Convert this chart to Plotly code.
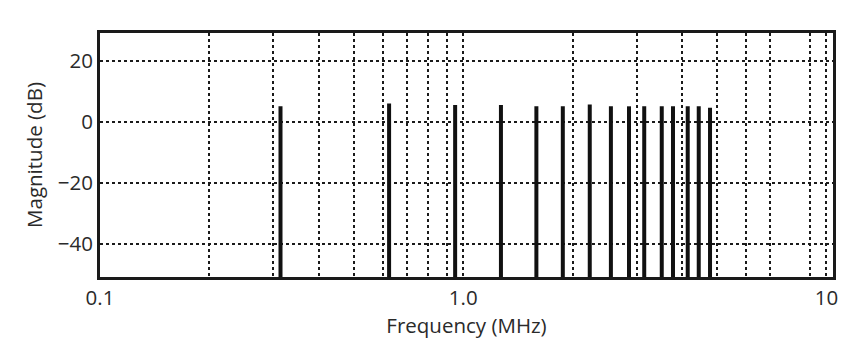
import plotly.graph_objects as go

freqs_mhz = [0.314, 0.625, 0.95, 1.27, 1.59, 1.88, 2.23, 2.55, 2.86, 3.15, 3.52, 3.78, 4.15, 4.45, 4.78]
mags_db = [5.1, 6.0, 5.5, 5.5, 5.1, 5.1, 5.7, 5.1, 5.1, 5.1, 5.1, 5.1, 5.1, 5.1, 4.6]
floor_db = -51

x_grid_vals = [0.1, 0.2, 0.3, 0.4, 0.5, 0.6, 0.7, 0.8, 0.9, 1.0, 2, 3, 4, 5, 6, 7, 9, 10]
x_tick_text = ["0.1", "", "", "", "", "", "", "", "", "1.0", "", "", "", "", "", "", "", "10"]
y_tick_vals = [-40, -20, 0, 20]
y_tick_text = ["\u221240", "\u221220", "0", "20"]

xs, ys = [], []
for f, m in zip(freqs_mhz, mags_db):
    xs += [f, f, None]
    ys += [floor_db, m, None]

fig = go.Figure()
fig.add_trace(go.Scatter(x=xs, y=ys, mode="lines",
                         line=dict(color="#111", width=4),
                         hoverinfo="skip", showlegend=False))

font = dict(family="Open Sans, Noto Sans, sans-serif", size=20.5, color="#2a2a2a")

fig.update_layout(
    width=865, height=349,
    margin=dict(l=100, r=32, t=33, b=72),
    paper_bgcolor="white", plot_bgcolor="white",
    font=font,
    showlegend=False,
)
fig.update_xaxes(
    type="log", range=[-1, 1.018],
    tickvals=x_grid_vals, ticktext=x_tick_text,
    showgrid=True, gridcolor="#1a1a1a", gridwidth=2, griddash="dot",
    showline=True, linecolor="#1a1a1a", linewidth=3, mirror=True,
    ticks="", zeroline=False,
    title=dict(text="Frequency (MHz)", font=font, standoff=6),
    tickfont=font,
)
fig.update_yaxes(
    range=[-51, 29.2],
    tickvals=y_tick_vals, ticktext=y_tick_text,
    showgrid=True, gridcolor="#1a1a1a", gridwidth=2, griddash="dot",
    showline=True, linecolor="#1a1a1a", linewidth=3, mirror=True,
    ticks="", zeroline=False,
    title=dict(text="Magnitude (dB)", font=font, standoff=10),
    tickfont=font,
)

fig.write_html("out.html")
